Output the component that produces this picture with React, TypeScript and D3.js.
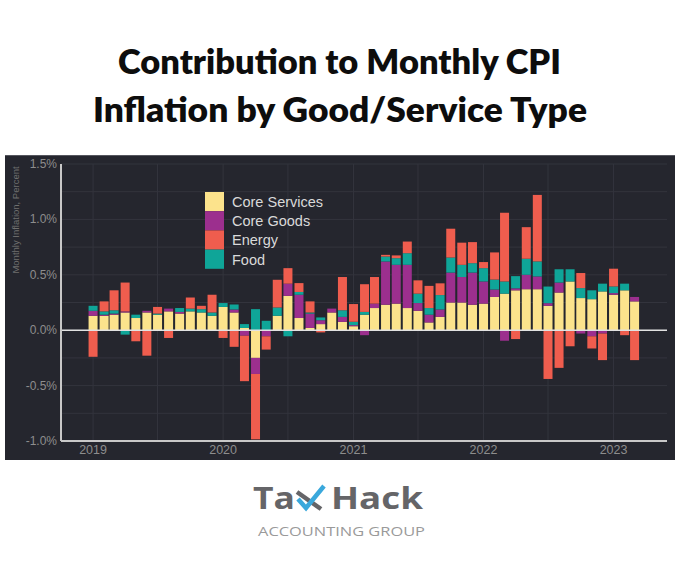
import React from "react";
import * as d3 from "d3";

const months = [
  "2019-01","2019-02","2019-03","2019-04","2019-05","2019-06","2019-07","2019-08","2019-09","2019-10","2019-11","2019-12",
  "2020-01","2020-02","2020-03","2020-04","2020-05","2020-06","2020-07","2020-08","2020-09","2020-10","2020-11","2020-12",
  "2021-01","2021-02","2021-03","2021-04","2021-05","2021-06","2021-07","2021-08","2021-09","2021-10","2021-11","2021-12",
  "2022-01","2022-02","2022-03","2022-04","2022-05","2022-06","2022-07","2022-08","2022-09","2022-10","2022-11","2022-12",
  "2023-01","2023-02","2023-03",
];

const coreServices = [
  0.13, 0.13, 0.14, 0.16, 0.11, 0.16, 0.14, 0.17, 0.15, 0.17, 0.16, 0.13,
  0.21, 0.16, 0.02, -0.25, 0.0, 0.13, 0.31, 0.11, 0.02, 0.055, 0.16, 0.075,
  0.036, 0.14, 0.2, 0.23, 0.24, 0.2, 0.175, 0.07, 0.12, 0.25, 0.25, 0.23,
  0.24, 0.3, 0.33, 0.36, 0.37, 0.37, 0.22, 0.34, 0.44, 0.29, 0.28, 0.35,
  0.32, 0.36, 0.26,
];

const coreGoods = [
  0.045, 0.01, 0.01, 0.01, 0.0, 0.015, 0.0, 0.025, 0.015, 0.0, 0.0, 0.0,
  0.0, 0.027, -0.05, -0.145, -0.055, 0.0, 0.11, 0.21, 0.13, 0.035, 0.035, 0.045,
  0.01, -0.045, 0.04, 0.39, 0.35, 0.39, 0.07, 0.07, 0.067, 0.27, 0.23, 0.29,
  0.2, 0.067, -0.095, 0.018, 0.13, 0.115, 0.024, 0.09, 0.0, -0.03, -0.055, -0.03,
  0.015, 0.0, 0.04,
];

const food = [
  0.045, 0.03, 0.03, -0.04, 0.03, 0.0, 0.01, 0.0, 0.035, 0.025, 0.03, 0.03,
  0.035, 0.045, 0.035, 0.19, 0.085, 0.075, -0.055, 0.025, 0.01, 0.025, 0.0, 0.06,
  0.03, 0.025, 0.0, 0.045, 0.06, 0.105, 0.085, 0.06, 0.13, 0.136, 0.11, 0.085,
  0.12, 0.09, 0.11, 0.11, 0.145, 0.136, 0.15, 0.12, 0.11, 0.09, 0.08, 0.07,
  0.06, 0.06, 0.0,
];

const energy = [
  -0.24, 0.09, 0.18, 0.26, -0.1, -0.23, 0.06, -0.07, 0.0, 0.1, 0.03, 0.16,
  -0.07, -0.15, -0.41, -0.59, -0.12, 0.25, 0.14, 0.08, 0.1, -0.02, 0.0, 0.3,
  0.16, 0.25, 0.24, 0.015, 0.025, 0.105, 0.12, 0.2, 0.106, 0.26, 0.2, 0.19,
  0.055, 0.245, 0.62, -0.08, 0.285, 0.6, -0.44, -0.34, -0.145, 0.136, -0.11, -0.24,
  0.16, -0.045, -0.27,
];

const seriesNames = ["Core Services", "Core Goods", "Energy", "Food"];
const stackOrder = ["Core Services", "Core Goods", "Food", "Energy"];
const colors: Record<string, string> = {
  "Core Services": "#fce38c",
  "Core Goods": "#9c2f8e",
  "Energy": "#ef5d4e",
  "Food": "#0fa598",
};

const yTicks = [-1.0, -0.5, 0.0, 0.5, 1.0, 1.5];
const yGrid = [-1.0, -0.75, -0.5, -0.25, 0, 0.25, 0.5, 0.75, 1.0, 1.25, 1.5];
const yearTicks = ["2019", "2020", "2021", "2022", "2023"];
const halfYearGrid = ["2019-01","2019-07","2020-01","2020-07","2021-01","2021-07","2022-01","2022-07","2023-01"];

const parse = d3.timeParse("%Y-%m");

export default function App() {
  const W = 680, H = 570;
  const x = d3.scaleTime()
    .domain([new Date(2018, 9, 3), new Date(2023, 4, 31)])
    .range([61, 667]);
  const y = d3.scaleLinear().domain([-1.0, 1.5]).range([441, 164]);

  const rows = months.map((m, i) => ({
    date: parse(m) as Date,
    "Core Services": coreServices[i],
    "Core Goods": coreGoods[i],
    "Food": food[i],
    "Energy": energy[i],
  }));

  const stacked = d3.stack<any>().keys(stackOrder).offset(d3.stackOffsetDiverging)(rows);
  const bw = 9;
  const chartFont = "'Liberation Sans', Arial, sans-serif";
  const logoGray = "#656568";

  return (
    <svg width={W} height={H} style={{ display: "block", position: "absolute", left: 0, top: 0 }}>
      <rect x={0} y={0} width={W} height={H} fill="#ffffff" />
      <text x={118} y={74} fontFamily="Lato, sans-serif" fontWeight={800} fontSize={33} fill="#0d0d0d" textLength={443} lengthAdjust="spacingAndGlyphs">
        Contribution to Monthly CPI
      </text>
      <text x={93} y={122} fontFamily="Lato, sans-serif" fontWeight={800} fontSize={33} fill="#0d0d0d" textLength={494} lengthAdjust="spacingAndGlyphs">
        Inflation by Good/Service Type
      </text>

      <rect x={5} y={155} width={670} height={305} fill="#25262e" />
      <line x1={5} x2={675} y1={155.5} y2={155.5} stroke="#55565e" strokeWidth={1} />

      {yGrid.map((v) => (
        <line key={"hg" + v} x1={61} x2={667} y1={y(v)} y2={y(v)} stroke="#33343d" strokeWidth={1} />
      ))}
      {halfYearGrid.map((m) => (
        <line key={"vg" + m} x1={x(parse(m) as Date)} x2={x(parse(m) as Date)} y1={164} y2={441} stroke="#33343d" strokeWidth={1} />
      ))}

      {stacked.map((s) => (
        <g key={s.key} fill={colors[s.key]}>
          {s.map((d, i) => {
            const y0 = y(d[0]);
            const y1 = y(d[1]);
            const h = Math.abs(y0 - y1);
            if (h < 0.01) return null;
            return (
              <rect key={i} x={x(rows[i].date) - bw / 2} y={Math.min(y0, y1)} width={bw} height={h} />
            );
          })}
        </g>
      ))}

      <line x1={61} x2={667} y1={y(0)} y2={y(0)} stroke="#e2e2e2" strokeWidth={1.5} />
      <line x1={61} x2={61} y1={164} y2={441} stroke="#c8c8c8" strokeWidth={2} />
      <line x1={61} x2={667} y1={441} y2={441} stroke="#c8c8c8" strokeWidth={2} />

      {yTicks.map((v) => (
        <text key={"yt" + v} x={57} y={y(v) + 4} textAnchor="end" fontFamily={chartFont} fontSize={12} fill="#8d8d8d">
          {v.toFixed(1) + "%"}
        </text>
      ))}
      {yearTicks.map((t) => (
        <text key={"xt" + t} x={x(parse(t + "-01") as Date)} y={454} textAnchor="middle" fontFamily={chartFont} fontSize={12.5} fill="#8d8d8d">
          {t}
        </text>
      ))}
      <text transform="translate(19,220) rotate(-90)" textAnchor="middle" fontFamily={chartFont} fontSize={9.5} fill="#6f6f6f">
        Monthly Inflation, Percent
      </text>

      {seriesNames.map((n, i) => (
        <g key={"lg" + n}>
          <rect x={205} y={192 + i * 19.2} width={19} height={19.2} fill={colors[n]} />
          <text x={232} y={192 + i * 19.2 + 15} fontFamily={chartFont} fontSize={14.5} fill="#d9d9d9">
            {n}
          </text>
        </g>
      ))}

      <text x={253} y={509} fontFamily="'Open Sans', sans-serif" fontWeight={700} fontSize={30} fill={logoGray} textLength={42} lengthAdjust="spacingAndGlyphs">
        Ta
      </text>
      <line x1={297} y1={492} x2={321} y2={509} stroke={logoGray} strokeWidth={4.5} />
      <polyline points="298,499 306,508 324,486" fill="none" stroke="#3aa8dc" strokeWidth={4.5} />
      <text x={331} y={509} fontFamily="'Open Sans', sans-serif" fontWeight={700} fontSize={30} fill={logoGray} textLength={92} lengthAdjust="spacingAndGlyphs">
        Hack
      </text>
      <text x={258} y={536} fontFamily="'Open Sans', sans-serif" fontSize={12.5} fill="#9a9a9a" textLength={167} lengthAdjust="spacingAndGlyphs">
        ACCOUNTING GROUP
      </text>
    </svg>
  );
}
